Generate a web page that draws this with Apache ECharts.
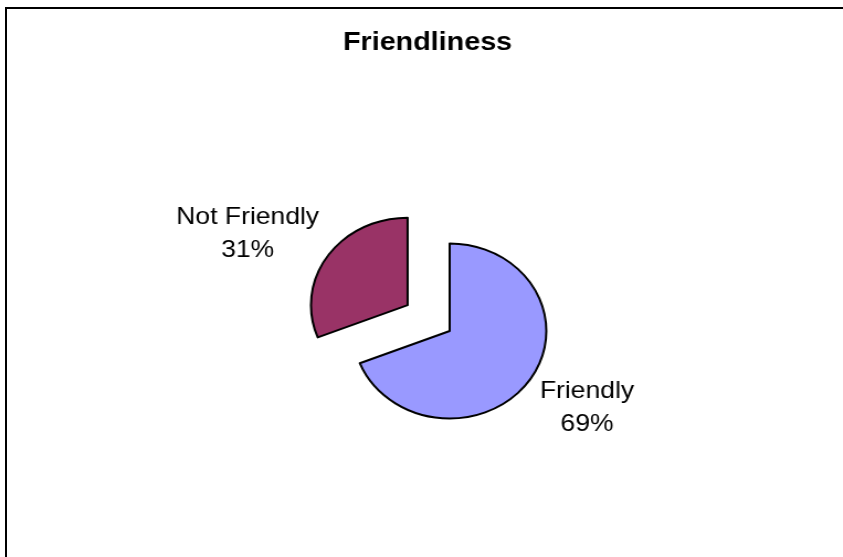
<!DOCTYPE html>
<html>
<head>
<meta charset="utf-8">
<title>Friendliness</title>
<script src="https://cdn.jsdelivr.net/npm/echarts@6/dist/echarts.min.js"></script>
<style>
  html, body { margin: 0; padding: 0; background: #fff; overflow: hidden; }
  #wrap { position: relative; width: 843px; height: 557px; overflow: hidden; }
  #frame {
    position: absolute; left: 5px; top: 7px; width: 900px; height: 600px;
    border-left: 2px solid #000; border-top: 2px solid #000;
  }
  /* the original picture is stretched sideways, so the pie is an ellipse */
  #chart {
    position: absolute; left: 0; top: 0; width: 763px; height: 557px;
    transform: scaleX(1.1048); transform-origin: 0 0;
  }
</style>
</head>
<body>
<div id="wrap">
  <div id="frame"></div>
  <div id="chart"></div>
</div>
<script>
const titleText = 'Friendliness'
const categories = ['Friendly', 'Not Friendly']
const values = [69, 31]
const colors = ['#9999FF', '#993366']
const exploded = [false, true]

const fontFamily = 'Arial, "Liberation Sans", sans-serif'

// label placement per slice (length, length2 of the hidden label line)
const labelLines = [
  { length: 49.5, length2: -59 },
  { length: 38.7, length2: -29.6 }
]

const chart = echarts.init(document.getElementById('chart'), null, { renderer: 'canvas' })

const seriesData = categories.map((name, i) => ({
  name: name,
  value: values[i],
  selected: exploded[i],
  itemStyle: { color: colors[i] },
  labelLine: { show: false, length: labelLines[i].length, length2: labelLines[i].length2 }
}))

chart.setOption({
  animation: false,
  backgroundColor: 'transparent',
  title: {
    text: titleText,
    left: 387,
    top: 30,
    textAlign: 'center',
    padding: 0,
    textStyle: {
      fontFamily: fontFamily,
      fontSize: 26,
      fontWeight: 'bold',
      lineHeight: 26,
      color: '#000'
    }
  },
  series: [{
    type: 'pie',
    center: [407, 331],
    radius: 87.5,
    startAngle: 90,
    clockwise: true,
    percentPrecision: 0,
    avoidLabelOverlap: false,
    selectedMode: 'single',
    selectedOffset: 46,
    emphasis: { disabled: true },
    itemStyle: {
      borderColor: '#000',
      borderWidth: 2
    },
    label: {
      show: true,
      position: 'outside',
      alignTo: 'none',
      overflow: 'none',
      formatter: '{a|{b}}\n{a|{d}%}',
      rich: {
        a: {
          width: 130,
          align: 'center',
          fontFamily: fontFamily,
          fontSize: 24,
          lineHeight: 33,
          color: '#000'
        }
      }
    },
    data: seriesData
  }]
})
</script>
</body>
</html>
